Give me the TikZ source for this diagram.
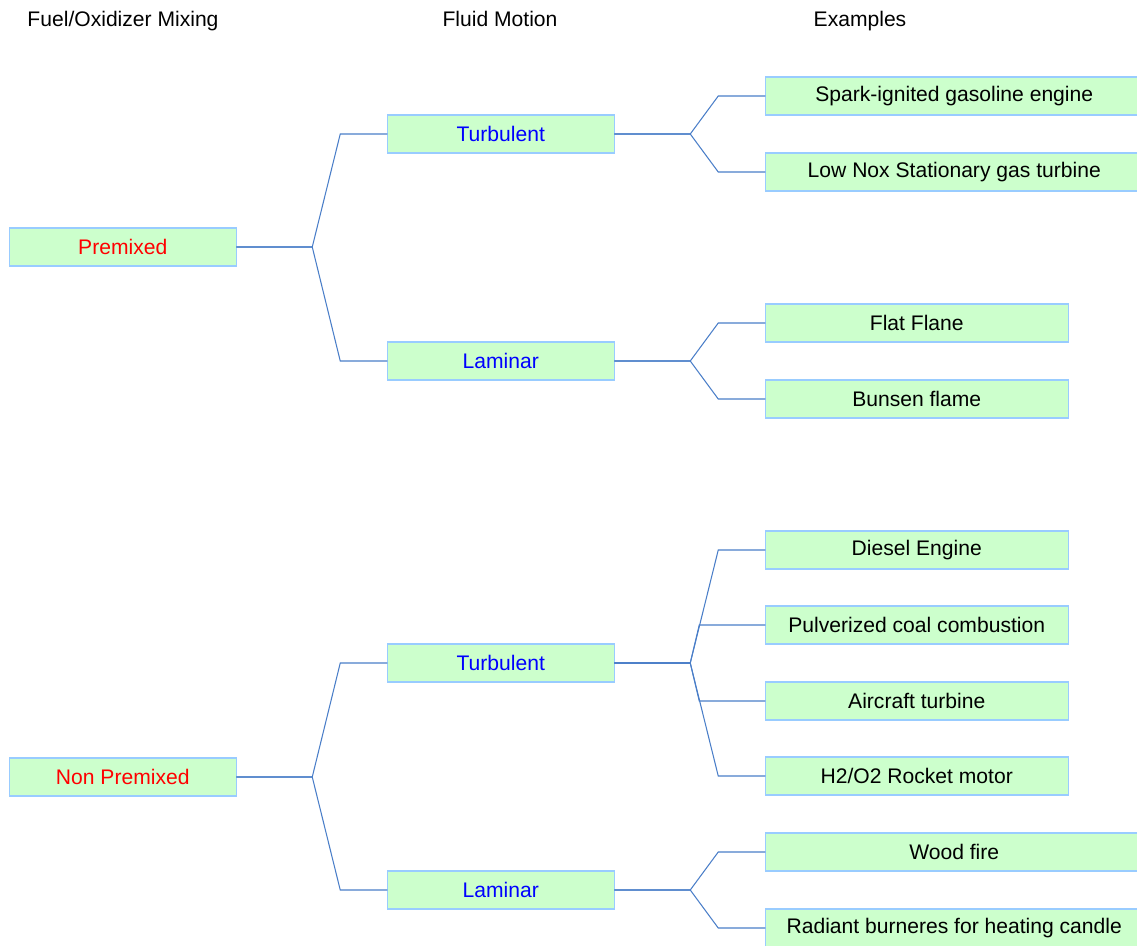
\documentclass[tikz,border=0pt]{standalone}
\usepackage{fontspec}
\setmainfont{Liberation Sans}
\usetikzlibrary{positioning}

\definecolor{boxfill}{HTML}{CCFFCC}
\definecolor{boxline}{HTML}{99CCFF}
\definecolor{linkblue}{HTML}{4A7EC8}

\begin{document}
\begin{tikzpicture}[
    node distance=1.5cm and 3.02cm,
    box/.style={
        draw=boxline,
        fill=boxfill,
        line width=0.6pt,
        minimum width=4.54cm,
        minimum height=0.76cm,
        inner sep=0pt,
        outer sep=0pt,
        align=center
    },
    example/.style={box, minimum width=6.06cm},
    wide/.style={box, minimum width=7.56cm},
    heading/.style={anchor=base},
    link/.style={draw=linkblue, line width=0.6pt},
    every node/.style={font=\fontsize{12}{14}\selectfont}
]
    \useasboundingbox (0,0) rectangle (22.74,-18.9);

    \node[heading] (head-mixing) at (2.46,-0.53) {Fuel/Oxidizer Mixing};
    \node[heading] (head-motion) at (10.0,-0.53) {Fluid Motion};
    \node[heading] (head-examples) at (17.2,-0.53) {Examples};

    \node[box, text=red] at (2.455,-4.94) (premixed) {Premixed};
    \node[box, text=red, below=9.84cm of premixed] (non-premixed) {Non Premixed};

    \node[box, text=blue, above right=1.5cm and 3.02cm of premixed] (turbulent-premixed) {Turbulent};
    \node[box, text=blue, below right=1.52cm and 3.02cm of premixed] (laminar-premixed) {Laminar};
    \node[box, text=blue, above right=1.52cm and 3.02cm of non-premixed] (turbulent-non-premixed) {Turbulent};
    \node[box, text=blue, below right=1.5cm and 3.02cm of non-premixed] (laminar-non-premixed) {Laminar};

    \node[wide, above right=0cm and 3.02cm of turbulent-premixed] (spark-engine) {Spark-ignited gasoline engine};
    \node[wide, below right=0cm and 3.02cm of turbulent-premixed] (gas-turbine) {Low Nox Stationary gas turbine};
    \node[example, above right=0cm and 3.02cm of laminar-premixed] (flat-flame) {Flat Flane};
    \node[example, below right=0cm and 3.02cm of laminar-premixed] (bunsen-flame) {Bunsen flame};

    \node[example, above right=0cm and 3.02cm of turbulent-non-premixed] (coal-combustion) {Pulverized coal combustion};
    \node[example, below right=0cm and 3.02cm of turbulent-non-premixed] (aircraft-turbine) {Aircraft turbine};
    \node[example, above=0.74cm of coal-combustion] (diesel-engine) {Diesel Engine};
    \node[example, below=0.74cm of aircraft-turbine] (rocket-motor) {H2/O2 Rocket motor};
    \node[wide, above right=0cm and 3.02cm of laminar-non-premixed] (wood-fire) {Wood fire};
    \node[wide, below right=0cm and 3.02cm of laminar-non-premixed] (radiant-burner) {Radiant burneres for heating candle};

    % mixing -> fluid motion
    \draw[link] (premixed.east) -- ++(1.52,0) -- ([xshift=-0.94cm]turbulent-premixed.west) -- (turbulent-premixed.west);
    \draw[link] (premixed.east) -- ++(1.52,0) -- ([xshift=-0.94cm]laminar-premixed.west) -- (laminar-premixed.west);
    \draw[link] (non-premixed.east) -- ++(1.52,0) -- ([xshift=-0.94cm]turbulent-non-premixed.west) -- (turbulent-non-premixed.west);
    \draw[link] (non-premixed.east) -- ++(1.52,0) -- ([xshift=-0.94cm]laminar-non-premixed.west) -- (laminar-non-premixed.west);

    % fluid motion -> examples
    \draw[link] (turbulent-premixed.east) -- ++(1.52,0) -- ([xshift=-0.94cm]spark-engine.west) -- (spark-engine.west);
    \draw[link] (turbulent-premixed.east) -- ++(1.52,0) -- ([xshift=-0.94cm]gas-turbine.west) -- (gas-turbine.west);
    \draw[link] (laminar-premixed.east) -- ++(1.52,0) -- ([xshift=-0.94cm]flat-flame.west) -- (flat-flame.west);
    \draw[link] (laminar-premixed.east) -- ++(1.52,0) -- ([xshift=-0.94cm]bunsen-flame.west) -- (bunsen-flame.west);

    \draw[link] (turbulent-non-premixed.east) -- ++(1.52,0) -- ([xshift=-0.94cm]diesel-engine.west) -- (diesel-engine.west);
    \draw[link] (turbulent-non-premixed.east) -- ++(1.52,0) -- ([xshift=-1.32cm]coal-combustion.west) -- (coal-combustion.west);
    \draw[link] (turbulent-non-premixed.east) -- ++(1.52,0) -- ([xshift=-1.32cm]aircraft-turbine.west) -- (aircraft-turbine.west);
    \draw[link] (turbulent-non-premixed.east) -- ++(1.52,0) -- ([xshift=-0.94cm]rocket-motor.west) -- (rocket-motor.west);
    \draw[link] (laminar-non-premixed.east) -- ++(1.52,0) -- ([xshift=-0.94cm]wood-fire.west) -- (wood-fire.west);
    \draw[link] (laminar-non-premixed.east) -- ++(1.52,0) -- ([xshift=-0.94cm]radiant-burner.west) -- (radiant-burner.west);
\end{tikzpicture}
\end{document}
